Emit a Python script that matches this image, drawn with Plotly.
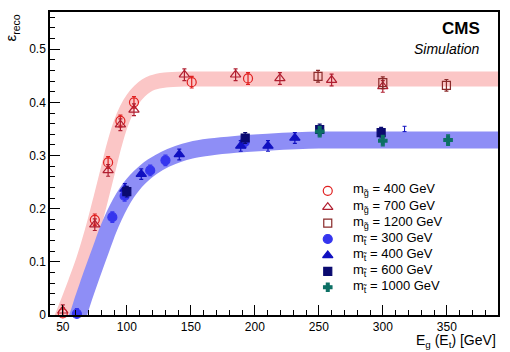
import plotly.graph_objects as go

# ---------------- data ----------------
# gluino samples (E_g vs efficiency)
g400_x = [50, 75, 85.4, 95, 105.6, 150.7, 194.7]
g400_y = [0.003, 0.179, 0.287, 0.365, 0.400, 0.438, 0.445]
g700_x = [50, 75, 85.4, 95, 105.6, 145, 185, 219.6, 260, 300]
g700_y = [0.008, 0.170, 0.272, 0.358, 0.386, 0.452, 0.452, 0.445, 0.442, 0.430]
g1200_x = [249.4, 300, 349.7]
g1200_y = [0.449, 0.437, 0.432]
# stop samples
t300_x = [61, 88.7, 98.3, 118.3, 130.2, 192]
t300_y = [0.002, 0.184, 0.224, 0.272, 0.291, 0.325]
t400_x = [98.5, 111.3, 141, 189, 210.3, 231.3]
t400_y = [0.237, 0.265, 0.302, 0.318, 0.318, 0.333]
t600_x = [100, 192.5, 250.7, 298.7]
t600_y = [0.232, 0.333, 0.349, 0.343]
t1000_x = [250.7, 300, 351]
t1000_y = [0.345, 0.328, 0.329]
stray_x = [317]
stray_y = [0.350]
err_g = 0.011
err_t = 0.010

# fitted bands (centre)
band_g_x = [44, 50, 55, 60, 65, 70, 75, 80, 85, 90, 95, 100, 105, 110, 115, 120, 130, 145, 170, 395]
band_g_y = [-0.035, 0.0, 0.03, 0.062, 0.095, 0.133, 0.175, 0.222, 0.270, 0.318, 0.358, 0.387,
            0.407, 0.421, 0.431, 0.437, 0.442, 0.444, 0.444, 0.444]
band_t_x = [57, 62, 66, 70, 75, 80, 85, 90, 95, 100, 105, 110, 115, 120, 130, 140, 150, 165,
            185, 210, 250, 300, 395]
band_t_y = [-0.03, 0.0, 0.03, 0.058, 0.092, 0.125, 0.158, 0.186, 0.210, 0.230, 0.246, 0.259,
            0.270, 0.279, 0.293, 0.303, 0.310, 0.316, 0.321, 0.325, 0.329, 0.329, 0.329]

legend_labels = ["m<sub>g̃</sub> = 400 GeV", "m<sub>g̃</sub> = 700 GeV", "m<sub>g̃</sub> = 1200 GeV",
                 "m<sub>t̃</sub> = 300 GeV", "m<sub>t̃</sub> = 400 GeV", "m<sub>t̃</sub> = 600 GeV",
                 "m<sub>t̃</sub> = 1000 GeV"]

FONT = "Liberation Sans, Arial, Helvetica, sans-serif"

styles = [
    ("circle-open", "#e02020", 9),
    ("triangle-up-open", "#b01e30", 9),
    ("square-open", "#8a2a2a", 8),
    ("circle", "#3535ee", 9),
    ("triangle-up", "#1010c0", 9),
    ("square", "#0a0a70", 8),
    ("cross", "#0d7065", 7),
]

fig = go.Figure()

fig.add_trace(go.Scatter(x=band_g_x, y=band_g_y, mode="lines",
                         line=dict(color="#fbc6c6", width=15, shape="spline", smoothing=0.8),
                         hoverinfo="skip", showlegend=False))
fig.add_trace(go.Scatter(x=band_t_x, y=band_t_y, mode="lines",
                         line=dict(color="#8e8ef6", width=17, shape="spline", smoothing=0.8),
                         hoverinfo="skip", showlegend=False))

series = [(g400_x, g400_y, err_g), (g700_x, g700_y, err_g), (g1200_x, g1200_y, err_g),
          (t300_x, t300_y, err_t), (t400_x, t400_y, err_t), (t600_x, t600_y, err_t),
          (t1000_x, t1000_y, err_t)]

for (xs, ys, e), (sym, col, sz) in zip(series, styles):
    fig.add_trace(go.Scatter(
        x=xs, y=ys, mode="markers",
        marker=dict(symbol=sym, color=col, size=sz, line=dict(color=col, width=1.2)),
        error_y=dict(type="constant", value=e, color=col, thickness=1.2, width=2),
        showlegend=False, cliponaxis=False))

fig.add_trace(go.Scatter(x=stray_x, y=stray_y, mode="markers",
                         marker=dict(size=1, color="#1010c0"),
                         error_y=dict(type="constant", value=0.005, color="#1010c0", thickness=1, width=2),
                         showlegend=False))

# manual legend on a pixel-like overlay axis
leg_y = [190, 206.5, 222.5, 238.5, 255, 271, 287]
for i, (sym, col, sz) in enumerate(styles):
    fig.add_trace(go.Scatter(x=[329], y=[leg_y[i]], xaxis="x2", yaxis="y2", mode="markers",
                             marker=dict(symbol=sym, color=col, size=sz, line=dict(color=col, width=1.2)),
                             showlegend=False, hoverinfo="skip"))
    fig.add_annotation(x=352, y=leg_y[i] - 1, xref="x2", yref="y2", text=legend_labels[i],
                       showarrow=False, xanchor="left", yanchor="middle",
                       font=dict(family=FONT, size=13, color="black"))

fig.add_annotation(x=484, y=27, xref="x2", yref="y2", text="<b>CMS</b>", showarrow=False,
                   xanchor="right", yanchor="middle", font=dict(family=FONT, size=17, color="black"))
fig.add_annotation(x=484, y=47, xref="x2", yref="y2", text="<i>Simulation</i>", showarrow=False,
                   xanchor="right", yanchor="middle", font=dict(family=FONT, size=14, color="black"))

# axis titles
fig.add_annotation(x=1.0, y=-0.085, xref="paper", yref="paper",
                   text="E<sub>g</sub> (E<sub>t</sub>) [GeV]", showarrow=False,
                   xanchor="right", yanchor="middle", font=dict(family=FONT, size=14, color="black"))
fig.add_annotation(x=-0.085, y=1.0, xref="paper", yref="paper",
                   text="ε<sub>reco</sub>", showarrow=False, textangle=-90,
                   xanchor="center", yanchor="top", font=dict(family=FONT, size=15, color="black"))

axis_common = dict(showgrid=False, zeroline=False, showline=True, linecolor="black", linewidth=1.5,
                   mirror=True, ticks="inside", tickcolor="black", tickwidth=1,
                   tickfont=dict(family=FONT, size=12, color="black"))

fig.update_layout(
    width=510, height=352,
    margin=dict(l=50, r=10, t=10, b=37),
    paper_bgcolor="white", plot_bgcolor="white",
    showlegend=False,
    xaxis=dict(range=[40, 390], tickvals=[50, 100, 150, 200, 250, 300, 350], ticklen=10,
               minor=dict(dtick=10, tick0=0, ticks="inside", ticklen=5, tickcolor="black"),
               **axis_common),
    yaxis=dict(range=[0, 0.57], tickvals=[0, 0.1, 0.2, 0.3, 0.4, 0.5],
               ticktext=["0", "0.1", "0.2", "0.3", "0.4", "0.5"], ticklen=10,
               minor=dict(dtick=0.02, tick0=0, ticks="inside", ticklen=5, tickcolor="black"),
               **axis_common),
    xaxis2=dict(overlaying="x", anchor="y2", range=[50, 500], visible=False),
    yaxis2=dict(overlaying="y", anchor="x2", range=[315, 10], visible=False),
)

fig.write_html("out.html")
